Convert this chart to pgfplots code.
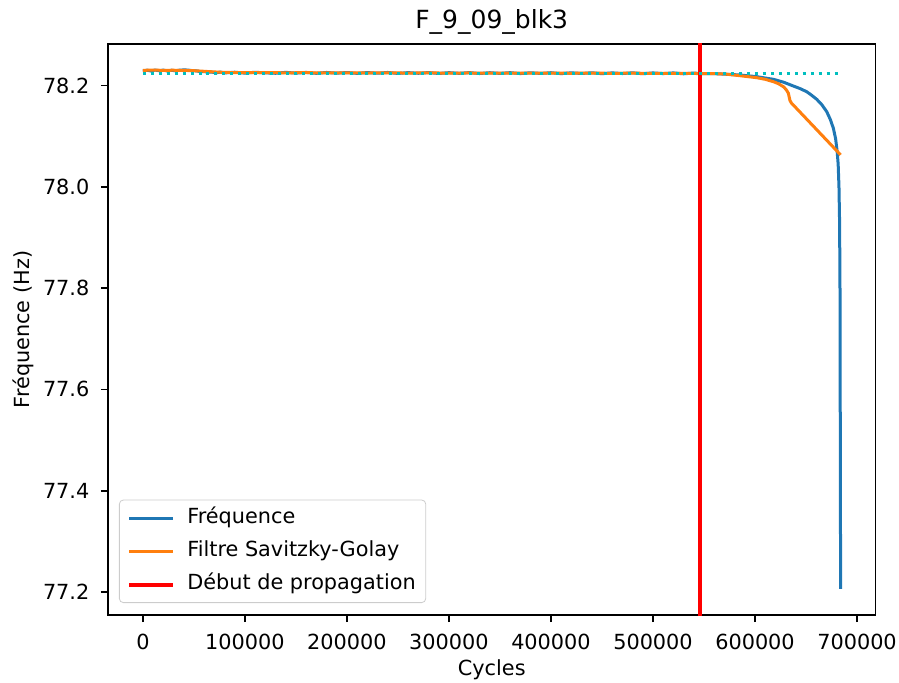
\documentclass[border=0pt]{standalone}
\usepackage{fontspec}
\setmainfont{DejaVu Sans}
\usepackage{pgfplots}
\pgfplotsset{compat=1.18}
\definecolor{mplblue}{HTML}{1F77B4}
\definecolor{mplorange}{HTML}{FF7F0E}
\definecolor{mplcyan}{HTML}{00BFBF}
\begin{document}
\begin{tikzpicture}
\useasboundingbox (-54pt,-33.5pt) rectangle (395.5pt,307.5pt);
\begin{axis}[
  scale only axis,
  width=383.75pt, height=285.5pt,
  xmin=-34195, xmax=718100,
  ymin=77.1546, ymax=78.2819,
  axis line style={line width=0.8pt},
  tick pos=left,
  tick align=outside,
  major tick length=3.5pt,
  tick style={black, line width=0.8pt},
  xtick={0,100000,200000,300000,400000,500000,600000,700000},
  ytick={77.2,77.4,77.6,77.8,78.0,78.2},
  scaled x ticks=false,
  xticklabel style={/tikz/yshift=-2.5pt, /pgf/number format/.cd, fixed, 1000 sep={}},
  yticklabel style={/tikz/xshift=-2.3pt, /pgf/number format/.cd, fixed, fixed zerofill, precision=1},
  /pgf/number format/assume math mode=true,
  ticklabel style={/tikz/font=\fontsize{10.4}{12.5}\selectfont},
  every axis title shift=0pt,
  title={F\_9\_09\_blk3},
  title style={at={(axis description cs:0.5,1.0263)}, anchor=base, font=\fontsize{12.5}{15}\selectfont},
  xlabel={Cycles},
  xlabel style={at={(axis description cs:0.5,-0.1068)}, anchor=base, font=\fontsize{10.4}{12.5}\selectfont},
  ylabel={Fréquence (Hz)},
  ylabel style={at={(axis description cs:-0.1027,0.5)}, anchor=base, rotate=0, font=\fontsize{10.4}{12.5}\selectfont},
  legend cell align=left,
  legend style={at={(axis description cs:0.0143,0.021)}, anchor=south west,
    draw=black!20, rounded corners=2pt, fill=white, fill opacity=0.8, text opacity=1,
    font=\fontsize{10.4}{12.5}\selectfont, inner xsep=4pt, inner ysep=3pt,
    row sep=4.5pt, column sep=5pt,
    nodes={inner sep=1pt, text height=7.6pt, text depth=2.5pt}},
  legend image code/.code={\draw[#1] (0pt,0pt) -- (22pt,0pt);},
]
\addplot[mplblue, line width=1.5pt] coordinates {
(0,78.2285) (4000,78.2302) (8000,78.2286) (12000,78.2305) (16000,78.2291) (20000,78.2303)
(24000,78.2287) (28000,78.2301) (32000,78.2289) (36000,78.2303) (40000,78.2307) (44000,78.2305)
(48000,78.2294) (52000,78.2290) (56000,78.2276) (60000,78.2274) (64000,78.2264) (68000,78.2263)
(72000,78.2251) (76000,78.2264) (80000,78.2248)
(90000,78.2262) (100000,78.2244) (110000,78.2261) (120000,78.2249) (130000,78.2241)
(140000,78.2259) (150000,78.2244) (160000,78.2258) (170000,78.2240) (180000,78.2257)
(190000,78.2243) (200000,78.2256) (210000,78.2239) (220000,78.2255) (230000,78.2242)
(240000,78.2257) (250000,78.2238) (260000,78.2254) (270000,78.2241) (280000,78.2255)
(290000,78.2237) (300000,78.2253) (310000,78.2240) (320000,78.2254) (330000,78.2236)
(340000,78.2252) (350000,78.2239) (360000,78.2253) (370000,78.2235) (380000,78.2251)
(390000,78.2238) (400000,78.2252) (410000,78.2234) (420000,78.2250) (430000,78.2237)
(440000,78.2251) (450000,78.2233) (460000,78.2249) (470000,78.2236) (480000,78.2250)
(490000,78.2232) (500000,78.2248) (510000,78.2235) (520000,78.2248) (530000,78.2231)
(540000,78.2245) (550000,78.2232) (560000,78.2234) (570000,78.2224)
(585300,78.2207) (601600,78.2174) (618000,78.2122) (628000,78.2065) (637500,78.1990)
(644000,78.1940) (650600,78.1878) (655000,78.1815) (660500,78.1727) (665500,78.1620)
(670300,78.1483) (674000,78.1320) (676800,78.1155) (679000,78.0950) (680500,78.0700)
(681500,78.0450) (682300,78.0000) (682900,77.9300) (683300,77.8000) (683600,77.5000)
(683900,77.2060)
};
\addlegendentry{Fréquence}
\addplot[mplorange, line width=1.5pt] coordinates {
(0,78.2300) (10000,78.2302) (20000,78.2300) (30000,78.2301) (40000,78.2298) (50000,78.2292)
(60000,78.2280) (70000,78.2268) (80000,78.2258) (100000,78.2252) (120000,78.2255)
(140000,78.2250) (160000,78.2253) (180000,78.2248) (200000,78.2251) (220000,78.2246)
(240000,78.2250) (260000,78.2245) (280000,78.2249) (300000,78.2244) (320000,78.2247)
(340000,78.2243) (360000,78.2246) (380000,78.2242) (400000,78.2245) (420000,78.2241)
(440000,78.2244) (460000,78.2240) (480000,78.2243) (500000,78.2239) (520000,78.2241)
(540000,78.2237) (560000,78.2233) (570000,78.2228) (585300,78.2193) (601600,78.2154)
(610000,78.2122) (618000,78.2075) (623000,78.2035) (627800,78.1976) (630500,78.1920)
(632700,78.1846) (634300,78.1700) (635800,78.1650) (637500,78.1615) (683900,78.0630)
};
\addlegendentry{Filtre Savitzky-Golay}
\addplot[red, line width=2pt] coordinates {(546100,77.1) (546100,78.4)};
\addlegendentry{Début de propagation}
\addplot[mplcyan, line width=1.5pt, dash pattern=on 1.5pt off 2.475pt, forget plot] coordinates {(0,78.2241) (681000,78.2241)};
\end{axis}
\end{tikzpicture}
\end{document}
